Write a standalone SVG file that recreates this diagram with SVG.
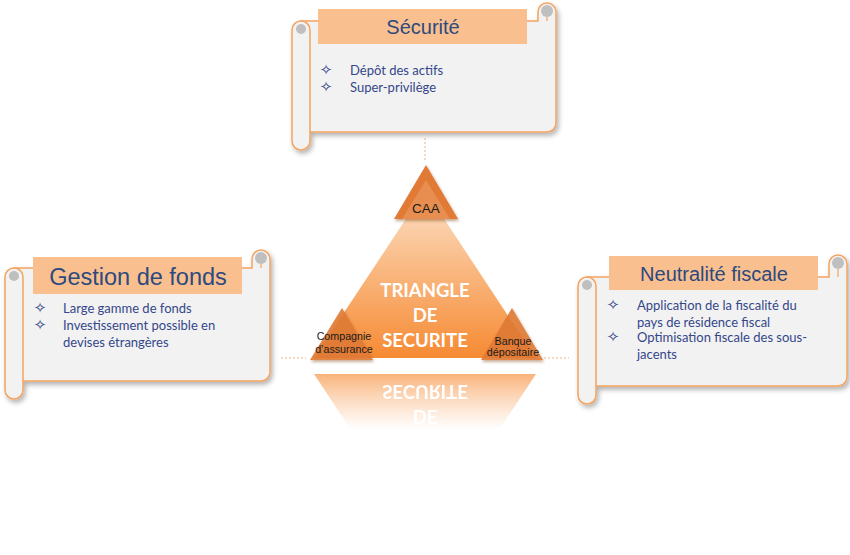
<svg xmlns="http://www.w3.org/2000/svg" width="850" height="555" viewBox="0 0 850 555">
<defs>
  <filter id="shadow" x="-10%" y="-10%" width="125%" height="130%">
    <feDropShadow dx="2" dy="3" stdDeviation="2.5" flood-color="#000" flood-opacity="0.3"/>
  </filter>
  <filter id="soft" x="-20%" y="-20%" width="140%" height="150%">
    <feDropShadow dx="1" dy="2" stdDeviation="1.5" flood-color="#7a3a10" flood-opacity="0.45"/>
  </filter>
  <linearGradient id="mainGrad" gradientUnits="userSpaceOnUse" x1="0" y1="190" x2="0" y2="358">
    <stop offset="0" stop-color="#FCE1CA"/>
    <stop offset="0.35" stop-color="#FAC394"/>
    <stop offset="1" stop-color="#F68A33"/>
  </linearGradient>
  <linearGradient id="fadeGrad" gradientUnits="userSpaceOnUse" x1="0" y1="374" x2="0" y2="430">
    <stop offset="0" stop-color="#fff" stop-opacity="0.65"/>
    <stop offset="1" stop-color="#fff" stop-opacity="0"/>
  </linearGradient>
  <mask id="fadeMask" maskUnits="userSpaceOnUse" x="0" y="366" width="850" height="120">
    <rect x="0" y="366" width="850" height="120" fill="url(#fadeGrad)"/>
  </mask>
  <style>
    .scroll { fill: #F2F2F2; stroke: #F4A460; stroke-width: 1.5; }
    .curl { fill: #BFBFBF; }
    .curlLine { fill: none; stroke: #F4A460; stroke-width: 1.2; }
    .titlebar { fill: #F9BF8F; }
    .title { font-family: "Liberation Sans", Arial, sans-serif; fill: #2C4A7E; text-anchor: middle; }
    .item { font-family: Lato, "Open Sans", sans-serif; font-size: 13px; fill: #34478A; }
    .bullet { font-family: "DejaVu Sans", sans-serif; font-size: 15px; fill: #34478A; text-anchor: middle; }
    .dash { stroke: #F4B183; stroke-width: 1; stroke-dasharray: 2 2; fill: none; }
    .small { fill: #E07A36; }
    .smallIn { fill: #E88E50; }
    .label { font-family: "Liberation Sans", Arial, sans-serif; font-size: 10.7px; fill: #1a1a1a; text-anchor: middle; }
    .caa { font-size: 13.5px; }
    .big { font-family: Lato, "Open Sans", sans-serif; font-weight: bold; font-size: 18.5px; fill: #ffffff; text-anchor: middle; }
  </style>
</defs>

<g id="connectors">
  <line class="dash" x1="425" y1="138" x2="425" y2="162"/>
  <line class="dash" x1="281" y1="358" x2="306" y2="358"/>
  <line class="dash" x1="544" y1="358" x2="569" y2="358"/>
</g>

<g id="securite">
  <g filter="url(#shadow)">
    <path class="scroll" d="M301,21 H538 V12 A9 9 0 0 1 556,12 V123 A9 9 0 0 1 547,132 H301 Z"/>
    <path class="scroll" d="M292,30 A9 9 0 0 1 310,30 V141 A9 9 0 0 1 292,141 Z"/>
  </g>
  <circle class="curl" cx="301" cy="29" r="5"/>
  <circle class="curl" cx="547" cy="11" r="6"/>
  <path class="curlLine" d="M547,17 V21"/>
  <rect class="titlebar" x="318" y="9" width="209" height="35"/>
  <text class="title" x="423" y="34" font-size="20">Sécurité</text>
  <text class="bullet" x="326" y="75">✧</text>
  <text class="item" x="350" y="75">Dépôt des actifs</text>
  <text class="bullet" x="326" y="92">✧</text>
  <text class="item" x="350" y="92">Super-privilège</text>
</g>

<g id="gestion">
  <g filter="url(#shadow)">
    <path class="scroll" d="M14,268 H252 V259 A9 9 0 0 1 270,259 V372 A9 9 0 0 1 261,381 H14 Z"/>
    <path class="scroll" d="M5,277 A9 9 0 0 1 23,277 V390 A9 9 0 0 1 5,390 Z"/>
  </g>
  <circle class="curl" cx="14" cy="276" r="5"/>
  <circle class="curl" cx="261" cy="258" r="6"/>
  <path class="curlLine" d="M261,264 V268"/>
  <rect class="titlebar" x="33" y="257" width="209" height="37"/>
  <text class="title" x="138" y="285" font-size="23.5">Gestion de fonds</text>
  <text class="bullet" x="40" y="313">✧</text>
  <text class="item" x="63" y="313">Large gamme de fonds</text>
  <text class="bullet" x="40" y="330">✧</text>
  <text class="item" x="63" y="330">Investissement possible en</text>
  <text class="item" x="63" y="347">devises étrangères</text>
</g>

<g id="neutralite">
  <g filter="url(#shadow)">
    <path class="scroll" d="M587,277 H829 V264 A9 9 0 0 1 847,264 V377 A9 9 0 0 1 838,386 H587 Z"/>
    <path class="scroll" d="M578,286 A9 9 0 0 1 596,286 V395 A9 9 0 0 1 578,395 Z"/>
  </g>
  <circle class="curl" cx="587" cy="285" r="5"/>
  <circle class="curl" cx="838" cy="263" r="6"/>
  <path class="curlLine" d="M838,269 V277"/>
  <rect class="titlebar" x="609" y="256" width="209" height="34"/>
  <text class="title" x="714" y="281" font-size="20">Neutralité fiscale</text>
  <text class="bullet" x="613" y="310">✧</text>
  <text class="item" x="637" y="310">Application de la fiscalité du</text>
  <text class="item" x="637" y="327">pays de résidence fiscal</text>
  <text class="bullet" x="613" y="342">✧</text>
  <text class="item" x="637" y="342">Optimisation fiscale des sous-</text>
  <text class="item" x="637" y="359">jacents</text>
</g>

<g id="reflection" mask="url(#fadeMask)">
  <g transform="matrix(1 0 0 -1 0 732)">
    <path d="M425,190 L536,358 L314,358 Z" fill="url(#mainGrad)"/>
    <text class="big" x="425" y="322">DE</text>
    <text class="big" x="425" y="347">SECURITE</text>
  </g>
</g>

<g id="triangle">
  <path d="M425,190 L536,358 L314,358 Z" fill="url(#mainGrad)"/>
  <text class="big" x="425" y="297">TRIANGLE</text>
  <text class="big" x="425" y="322">DE</text>
  <text class="big" x="425" y="347">SECURITE</text>
</g>

<g id="caa">
  <path class="small" filter="url(#soft)" d="M426,165 L458,219 L394,219 Z"/>
  <path class="smallIn" d="M426,180 L450,219 L402,219 Z"/>
  <text class="label caa" x="426" y="213">CAA</text>
</g>

<g id="compagnie">
  <path class="small" filter="url(#soft)" d="M342,308 L373,360 L310,360 Z" opacity="0.92"/>
  <text class="label" x="344" y="340">Compagnie</text>
  <text class="label" x="344" y="353">d’assurance</text>
</g>

<g id="banque">
  <path class="small" filter="url(#soft)" d="M512,308 L543,360 L481,360 Z" opacity="0.92"/>
  <text class="label" x="513" y="345">Banque</text>
  <text class="label" x="513" y="356">dépositaire</text>
</g>
</svg>
